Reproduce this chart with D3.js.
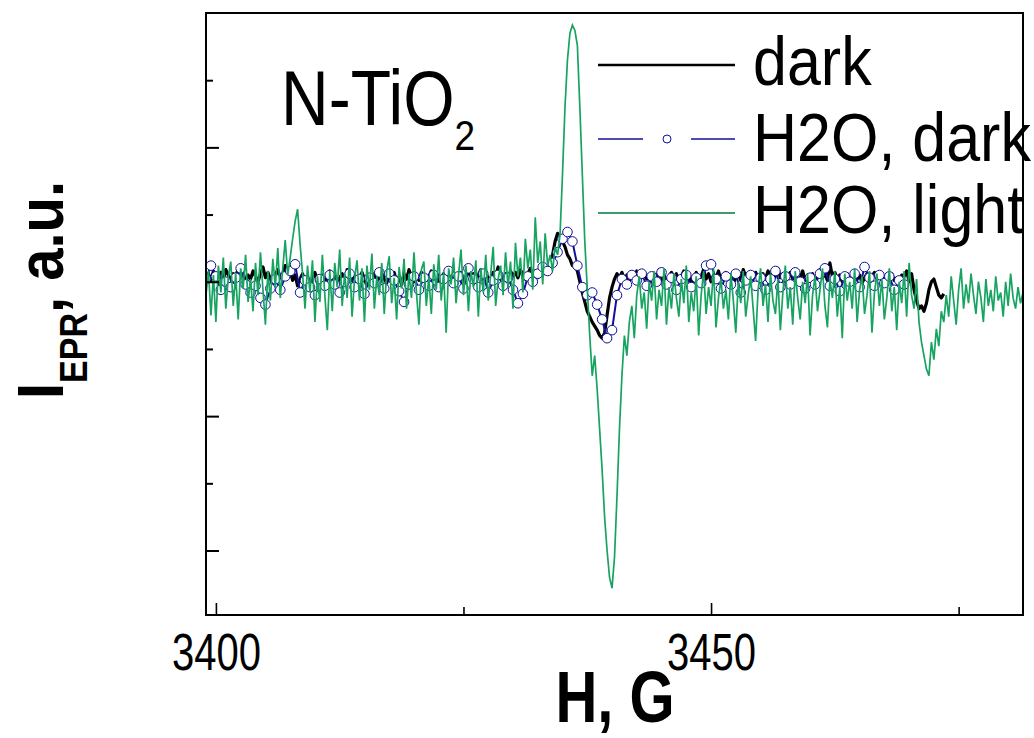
<!DOCTYPE html>
<html>
<head>
<meta charset="utf-8">
<script src="https://cdn.jsdelivr.net/npm/d3@7"></script>
<style>
  body { margin: 0; background: #fff; }
  text { font-family: Arial, "Liberation Sans", sans-serif; }
</style>
</head>
<body>
<div id="grafiek"></div>
<script>
// EPR spectra, field sweep from H0 with a fixed step, intensity in a.u. (100 = one major tick)
var H0 = 3399;
var stepFine = 0.25;   // dark and H2O light
var stepBlue = 0.5;    // H2O dark

var dark = [
  3, 6, 1, 8, 4, 0, 7, 2, 9, 5,
  1, 6, 3, 10, 4, 7, -1, 5, 2, 8,
  4, 0, 6, 11, 3, 7, 2, -2, 5, 9,
  3, 6, 12, 4, 8, 1, 5, -3, 2, 6,
  0, 4, -4, 3, 7, -1, 2, 5, -2, 4,
  8, 2, 5, -1, 3, 6, 0, 9, 4, 1,
  5, -2, 3, 7, 2, -3, 4, 1, 6, 0,
  3, 8, 2, -1, 5, 3, 7, 0, 4, -2,
  6, 2, 9, 3, 0, 5, 1, 7, 3, -1,
  4, 8, 2, 5, -2, 3, 6, 1, 10, 4,
  0, 5, 2, 7, -1, 4, 8, 3, 6, 1,
  5, 9, 2, 6, 3, -1, 7, 4, 11, 5,
  2, 6, 1, 8, 4, 7, 3, 9, 5, 2,
  6, 10, 4, 8, 3, 7, 5, 9, 8, 12,
  20, 30, 36, 33, 30, 26, 20, 17, 12, 12,
  8, 0, -8, -15, -22, -26, -30, -33, -36, -40,
  -42, -38, -25, -12, -4, 2, 6, 3, 7, 2,
  5, 0, 6, 3, 8, 1, 4, 7, 2, 5,
  0, 6, 3, 9, 1, 5, -1, 4, 7, 2,
  6, 0, 4, 8, 2, 5, -2, 3, 7, 1,
  4, 9, 2, 6, 0, 5, 3, 8, 1, 4,
  7, 2, 5, -1, 3, 6, 1, 9, 4, 0,
  5, 2, 7, 3, 0, 6, 2, 8, 4, 1,
  5, 10, 3, 6, 0, 4, 7, 2, 5, -1,
  3, 8, 1, 5, 2, 6, 0, 4, 9, 3,
  6, 1, 14, 4, 7, 2, 5, 0, 3, 6,
  1, 4, 8, 2, 5, -1, 3, 6, 0, 4,
  7, 2, 5, 1, 3, -2, 4, 6, 1, 3,
  0, 5, 4, 8, 0, 6, -6, -14, -20, -18,
  -22, -16, -6, 0, 2, -4, -10, -12, -9
];

var h2oDark = [
  2, 12, 4, -6, 0, -4, 3, 10, -2, -8,
  -3, -12, -17, -5, 2, -6, 4, 8, 13, -8,
  1, -4, -10, 2, -3, 5, -2, -8, 0, 6,
  -4, 2, -9, 3, -1, 7, -5, 6, 1, -7,
  -15, -2, 4, -6, 3, -3, 5, -4, 2, 8,
  -1, 4, -5, 10, 2, -4, 6, -8, 1, 5,
  -3, 3, -6, -16, -9, 4, 0, 6, 11, 8,
  14, 22, 32, 37, 30, 12, -4, -10, -8, -17,
  -28, -42, -36, -10, 2, -2, 5, 1, 6, -3,
  4, 0, 7, -2, 3, -6, 2, 5, -4, 3,
  -1, 12, 13, 2, -5, 4, -2, 6, -8, 1,
  5, -3, 3, -6, 2, 8, -4, 4, -2, 7,
  0, -5, 3, -2, 6, 10, -3, 2, -7, 4,
  0, 6, -4, 11, 3, -3, 5, -1, 4, -6,
  1, -2
];

var h2oLight = [
  -10, 8, -25, 5, -30, 12, -8, 18, -20, 3,
  15, -18, 6, -28, 10, -5, 20, -15, 2, -22,
  14, -10, 22, -6, -32, 8, -14, 17, -4, 25,
  -12, 10, 31, 5, 18, 32, 45, 54, 28, 6,
  -20, 12, -8, 16, -30, 4, -15, 20, -10, -36,
  8, -22, 14, -4, 24, -18, 6, -12, 18, -26,
  2, 16, -14, 10, -30, 12, -6, 21, -20, 4,
  -10, 14, -24, 8, 19, -16, 3, -28, 11, -5,
  17, -20, 6, -12, 22, -8, -32, 9, 15, -18,
  4, -24, 13, -6, 20, -14, 7, -38, 10, -2,
  18, -16, 5, 24, -10, 12, -22, 8, -4, 16,
  -26, 10, -8, 20, -14, 6, 26, -18, 2, 12,
  -10, 22, -4, 15, -20, 29, 4, 18, -8, 32,
  10, 24, -6, 48, 14, 30, -2, 36, 12, 20,
  8, 26, 20, 35, 80, 130, 165, 185, 191, 187,
  176, 130, 80, 30, -5, -40, -70, -55, -80, -110,
  -140, -175, -200, -220, -228, -205, -160, -110, -70, -40,
  -55, -30, -18, -42, -10, 4, -20, -8, -35, 0,
  -14, 8, -28, -6, -18, 10, -32, -4, -20, 6,
  -12, -26, 2, -16, 12, -30, -8, -22, 4, -40,
  -10, 8, -24, -4, -18, 10, -34, -12, 2, -20,
  -6, -28, 6, -14, -38, 0, -16, 8, -26, -10,
  4, -20, -44, -6, 10, -18, -2, -30, 6, -14,
  -24, 2, -36, -8, 12, -20, -4, -32, 8, -12,
  -28, 0, -16, 6, -40, -10, 4, -22, -6, 10,
  -18, -34, 2, -12, 8, -26, -4, -42, 6, -14,
  0, -20, 10, -30, -6, 4, -24, -10, 8, -38,
  -8, 6, -18, 2, -28, -12, 10, -22, -4, -36,
  0, -16, 8, -26, 14, -10, -20, 2, -30, -45,
  -55, -65, -70, -45, -58, -35, -48, -22, -30, -10,
  -26, 4, -14, -32, -6, 10, -20, -2, -16, 6,
  -10, -24, 0, -12, -30, 2, -18, -6, -22, 4,
  -14, -8, -26, 0, -18, 6, -12, -20, -4, -16,
  -8
];

var xMajor = [3400, 3450];
var xMinor = [3425, 3475];
var yMajor = [-200, -100, 0, 100];
var yMinor = [-150, -50, 50, 150];
var legendNames = ["dark", "H2O, dark", "H2O, light"];

var kleurDark = "#000000";
var kleurBlue = "#10109a";
var kleurGreen = "#17a360";

// plotgebied (niet "top" noemen: dat is window.top)
var width = 1034, height = 738;
var pLeft = 206, pRight = 1023, pTop = 13, pBottom = 615;

var x = d3.scaleLinear().domain([3399, 3481.5]).range([pLeft, pRight]);
var y = d3.scaleLinear().domain([-248, 200]).range([pBottom, pTop]);

var svg = d3.select("#grafiek").append("svg")
    .attr("width", width)
    .attr("height", height);

svg.append("rect").attr("width", width).attr("height", height).attr("fill", "#fff");

svg.append("clipPath").attr("id", "plotclip")
  .append("rect")
    .attr("x", pLeft).attr("y", pTop)
    .attr("width", pRight - pLeft).attr("height", pBottom - pTop);

var plot = svg.append("g").attr("clip-path", "url(#plotclip)");

function lijn(step) {
    return d3.line()
        .x(function(d, i) { return x(H0 + i * step); })
        .y(function(d) { return y(d); });
}

// dark
plot.append("path")
    .attr("d", lijn(stepFine)(dark))
    .attr("fill", "none")
    .attr("stroke", kleurDark)
    .attr("stroke-width", 3.2)
    .attr("stroke-linejoin", "round");

// H2O, dark: lijn + open cirkels
plot.append("path")
    .attr("d", lijn(stepBlue)(h2oDark))
    .attr("fill", "none")
    .attr("stroke", kleurBlue)
    .attr("stroke-width", 2);

plot.selectAll("circle.blue")
    .data(h2oDark)
    .enter()
    .append("circle")
    .attr("class", "blue")
    .attr("cx", function(d, i) { return x(H0 + i * stepBlue); })
    .attr("cy", function(d) { return y(d); })
    .attr("r", 4.8)
    .attr("fill", "#fff")
    .attr("stroke", kleurBlue)
    .attr("stroke-width", 1);

// H2O, light
plot.append("path")
    .attr("d", lijn(stepFine)(h2oLight))
    .attr("fill", "none")
    .attr("stroke", kleurGreen)
    .attr("stroke-width", 1.7);

// kader
svg.append("rect")
    .attr("x", pLeft).attr("y", pTop)
    .attr("width", pRight - pLeft).attr("height", pBottom - pTop)
    .attr("fill", "none")
    .attr("stroke", "#000")
    .attr("stroke-width", 2);

// assen, ticks naar binnen
var yAxisMajor = d3.axisLeft(y).tickValues(yMajor).tickSizeInner(-13).tickSizeOuter(0).tickFormat("");
var yAxisMinor = d3.axisLeft(y).tickValues(yMinor).tickSizeInner(-7).tickSizeOuter(0).tickFormat("");
var xAxisMajor = d3.axisBottom(x).tickValues(xMajor).tickSizeInner(-12).tickSizeOuter(0).tickFormat(d3.format("d"));
var xAxisMinor = d3.axisBottom(x).tickValues(xMinor).tickSizeInner(-8).tickSizeOuter(0).tickFormat("");

[yAxisMajor, yAxisMinor].forEach(function(ax) {
    var g = svg.append("g").attr("transform", "translate(" + pLeft + ",0)").call(ax);
    g.select(".domain").remove();
    g.selectAll("line").attr("stroke-width", 2);
});

[xAxisMajor, xAxisMinor].forEach(function(ax) {
    var g = svg.append("g").attr("transform", "translate(0," + pBottom + ")").call(ax);
    g.select(".domain").remove();
    g.selectAll("line").attr("stroke-width", 1.6);
    g.selectAll("text")
        .attr("font-size", 40)
        .attr("font-family", "Arial, 'Liberation Sans', sans-serif")
        .attr("fill", "#000")
        .attr("dy", 0)
        .attr("y", 55 / 1.28)
        .attr("transform", "scale(1,1.28)");
});

// as-titels
svg.append("text")
    .attr("transform", "translate(615,722) scale(1,1.25)")
    .attr("text-anchor", "middle")
    .attr("font-size", 58)
    .attr("font-weight", "bold")
    .text("H, G");

var ylab = svg.append("text")
    .attr("transform", "translate(63,399) rotate(-90) scale(1,1.13)")
    .attr("font-size", 58)
    .attr("font-weight", "bold");
ylab.append("tspan").text("I");
ylab.append("tspan").attr("font-size", 34).attr("dy", 21).text("EPR");
ylab.append("tspan").attr("dy", -21).text(", a.u.");

// monsterlabel
var titel = svg.append("text")
    .attr("transform", "translate(281,125) scale(1,1.17)")
    .attr("font-size", 66);
titel.append("tspan").text("N-TiO");
titel.append("tspan").attr("font-size", 37).attr("dy", 21).text("2");

// legenda
var legendY = [65, 139, 213];
var legendBase = [85, 161, 233];
var lx0 = 598, lx1 = 735;

svg.append("line")
    .attr("x1", lx0).attr("x2", lx1).attr("y1", legendY[0]).attr("y2", legendY[0])
    .attr("stroke", kleurDark).attr("stroke-width", 2.6);

svg.append("line")
    .attr("x1", lx0).attr("x2", 643).attr("y1", legendY[1]).attr("y2", legendY[1])
    .attr("stroke", kleurBlue).attr("stroke-width", 1.6);
svg.append("line")
    .attr("x1", 691).attr("x2", lx1).attr("y1", legendY[1]).attr("y2", legendY[1])
    .attr("stroke", kleurBlue).attr("stroke-width", 1.6);
svg.append("circle")
    .attr("cx", 667).attr("cy", legendY[1]).attr("r", 4)
    .attr("fill", "#fff").attr("stroke", kleurBlue).attr("stroke-width", 1);

svg.append("line")
    .attr("x1", lx0).attr("x2", lx1).attr("y1", legendY[2]).attr("y2", legendY[2])
    .attr("stroke", "#3f9a6c").attr("stroke-width", 2);

legendNames.forEach(function(naam, i) {
    svg.append("text")
        .attr("transform", "translate(753," + legendBase[i] + ") scale(1,1.12)")
        .attr("font-size", 61)
        .text(naam);
});
</script>
</body>
</html>
